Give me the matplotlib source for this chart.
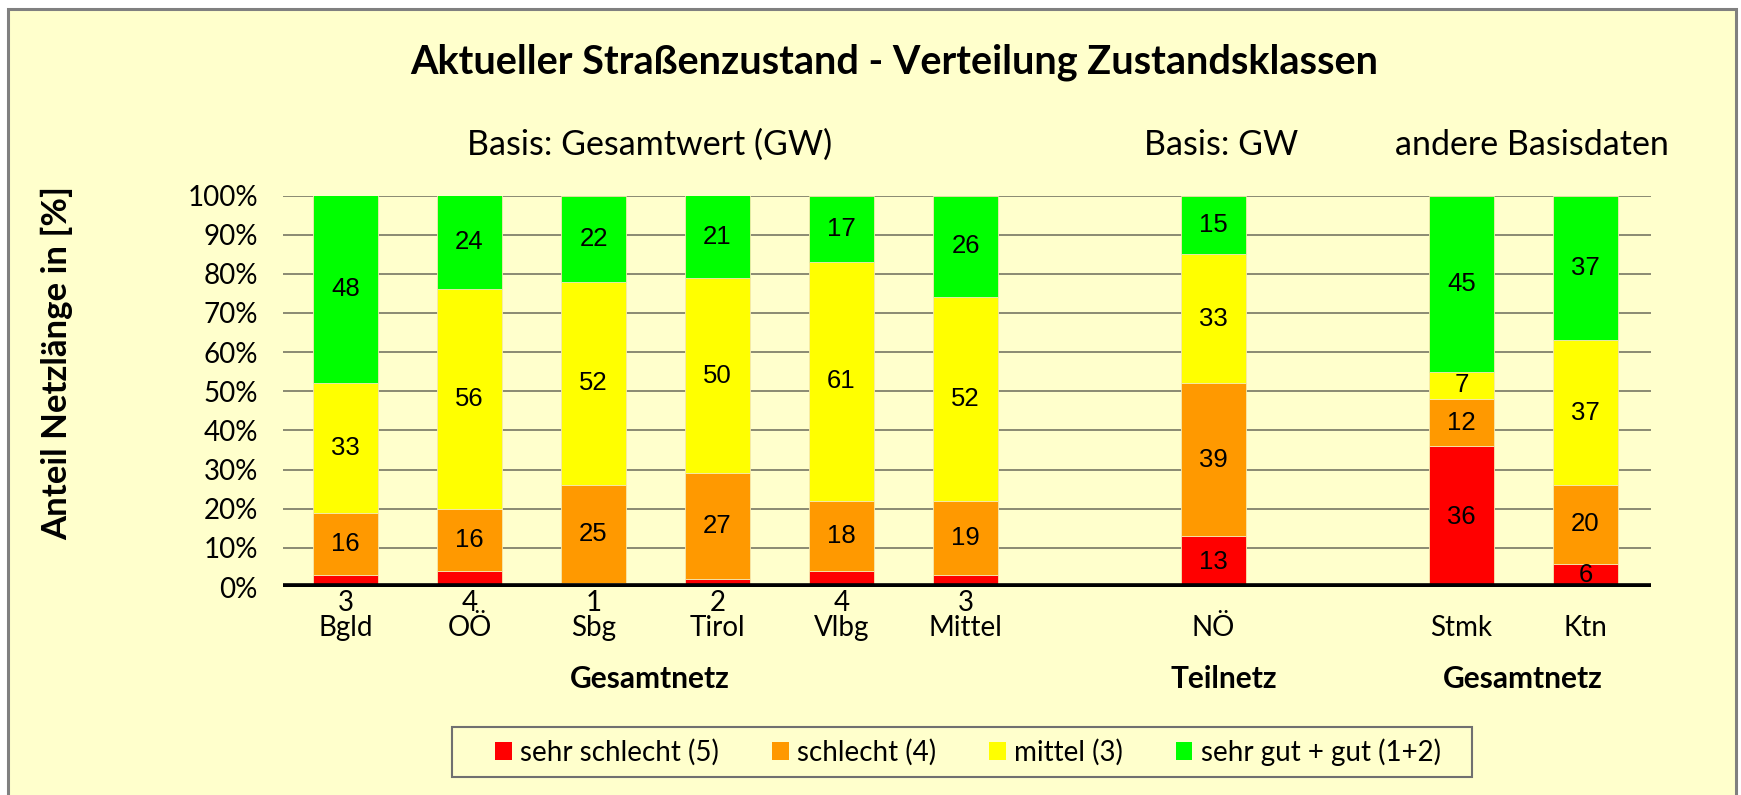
import matplotlib
matplotlib.use("Agg")
import matplotlib.pyplot as plt
from matplotlib.patches import Patch, Rectangle
import numpy as np

# ---- data ----
regions = ["Bgld", "OÖ", "Sbg", "Tirol", "Vlbg", "Mittel", "NÖ", "Stmk", "Ktn"]
slots = [0, 1, 2, 3, 4, 5, 7, 9, 10]
sehr_schlecht = [3, 4, 1, 2, 4, 3, 13, 36, 6]
schlecht = [16, 16, 25, 27, 18, 19, 39, 12, 20]
mittel = [33, 56, 52, 50, 61, 52, 33, 7, 37]
gut = [48, 24, 22, 21, 17, 26, 15, 45, 37]
series_names = ["sehr schlecht (5)", "schlecht (4)", "mittel (3)", "sehr gut + gut (1+2)"]
series_colors = ["#FF0000", "#FF9900", "#FFFF00", "#00FF00"]
yticks = [0, 10, 20, 30, 40, 50, 60, 70, 80, 90, 100]
below_axis = [True, True, True, True, True, True, False, False, False]

BG = "#FFFFCC"
W, H = 1741, 795
fig = plt.figure(figsize=(W / 100, H / 100), dpi=100)
fig.patch.set_facecolor("white")

# chart area background with border
fig.patches.append(Rectangle((8 / W, -0.05), (1736 - 8) / W, (H - 9) / H + 0.05,
                             transform=fig.transFigure, facecolor=BG,
                             edgecolor="#808080", linewidth=2.2, zorder=-10))
# legend box
fig.patches.append(Rectangle((452 / W, 1 - 777 / H), (1472 - 452) / W, (777 - 727) / H,
                             transform=fig.transFigure, facecolor=BG,
                             edgecolor="#707070", linewidth=1.5, zorder=-5))

ax = fig.add_axes([283 / W, 208 / H, (1651 - 283) / W, (599.5 - 208) / H])
ax.set_facecolor(BG)
ax.patch.set_alpha(0)

series = [sehr_schlecht, schlecht, mittel, gut]
bottom = np.zeros(len(regions))
for i, (vals, name, col) in enumerate(zip(series, series_names, series_colors)):
    vals = np.array(vals, dtype=float)
    cont = ax.bar(slots, vals, width=0.525, bottom=bottom, color=col,
                  edgecolor="#F5E8B0", linewidth=0.6, zorder=3, label=name)
    if i == 0:
        labels = ["" if b else str(int(v)) for v, b in zip(vals, below_axis)]
    else:
        labels = [str(int(v)) for v in vals]
    ax.bar_label(cont, labels=labels, label_type="center",
                 fontsize=18.5, family="Liberation Sans", color="black", zorder=5)
    bottom += vals

ax.set_xlim(-0.504, 10.528)
ax.set_ylim(0, 100)
ax.set_yticks(yticks)
ax.set_yticklabels([f"{t}%" for t in yticks], family="Lato", fontsize=20)
ax.yaxis.grid(True, color="#6B6B5A", linewidth=1.1, zorder=1)
ax.set_axisbelow(True)
ax.axhline(0, color="black", linewidth=5.5, zorder=6)
for s in ax.spines.values():
    s.set_visible(False)
ax.tick_params(axis="y", length=0, pad=18)
ax.tick_params(axis="x", length=0, pad=2)

xt = [f"{v}\n{r}" if b else f"\n{r}" for v, r, b in zip(sehr_schlecht, regions, below_axis)]
ax.set_xticks(slots)
ax.set_xticklabels(xt, family="Lato", fontsize=20, linespacing=0.95)

ax.set_ylabel("Anteil Netzlänge in [%]", family="Lato", fontweight="bold", fontsize=25,
              va="center")
ax.yaxis.set_label_coords((57 - 283) / (1651 - 283), (587 - 363) / (587 - 195.5))

def ftext(x, y, s, **kw):
    fig.text(x / W, 1 - y / H, s, ha="center", va="center", family="Lato", **kw)

ftext(894, 62, "Aktueller Straßenzustand - Verteilung Zustandsklassen", fontsize=28.5, fontweight="bold")
ftext(650, 145, "Basis: Gesamtwert (GW)", fontsize=24.5)
ftext(1221, 145, "Basis: GW", fontsize=24.5)
ftext(1532, 145, "andere Basisdaten", fontsize=24.5)
ftext(650, 679, "Gesamtnetz", fontsize=21.5, fontweight="bold")
ftext(1224, 679, "Teilnetz", fontsize=21.5, fontweight="bold")
ftext(1523, 679, "Gesamtnetz", fontsize=21.5, fontweight="bold")

handles = [Patch(facecolor=c, edgecolor="none", label=n) for c, n in zip(series_colors, series_names)]
leg = fig.legend(handles=handles, loc="center", bbox_to_anchor=(968 / W, 1 - 752 / H),
                 ncol=4, frameon=False, prop={"family": "Lato", "size": 20},
                 handlelength=0.6, handleheight=0.6, handletextpad=0.3,
                 columnspacing=1.9, borderpad=0.3, borderaxespad=0)

fig.savefig("out.png", dpi=100, facecolor=fig.get_facecolor())
